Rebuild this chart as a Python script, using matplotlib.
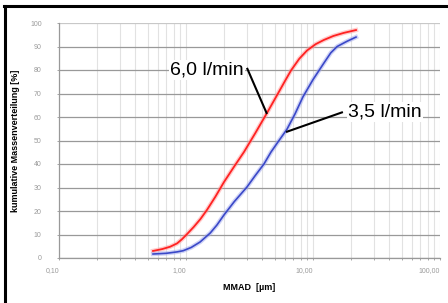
#!/usr/bin/env python3
"""Cumulative mass distribution vs MMAD for two flow rates (log x)."""

import matplotlib

matplotlib.use("Agg")
import matplotlib.pyplot as plt
from matplotlib.lines import Line2D
from matplotlib.ticker import FixedLocator, LogLocator, NullFormatter

plt.rcParams["font.family"] = ["Liberation Sans", "DejaVu Sans"]

# 6,0 l/min (red)
mmad_60 = [0.55, 0.65, 0.75, 0.85, 0.93, 1.02, 1.15, 1.30, 1.46, 1.70, 1.99, 2.40,
           2.86, 3.50, 4.34, 5.30, 6.00, 6.71, 7.80, 8.97, 10.5, 12.2, 14.5, 17.5, 21.8]
cum_60 = [3.0, 3.8, 4.8, 6.2, 8.0, 10.2, 13.2, 16.6, 20.4, 26.0, 32.3, 39.0,
          45.1, 53.0, 61.7, 70.0, 75.2, 79.8, 84.8, 88.3, 91.0, 92.8, 94.5, 95.8, 97.0]

# 3,5 l/min (blue)
mmad_35 = [0.55, 0.70, 0.85, 0.95, 1.10, 1.29, 1.55, 1.75, 1.99, 2.40, 3.02, 3.50,
           4.11, 4.67, 5.40, 6.24, 7.20, 8.34, 10.0, 12.2, 13.8, 15.5, 18.5, 21.8]
cum_35 = [1.7, 2.0, 2.6, 3.1, 4.5, 6.8, 10.6, 14.0, 18.3, 24.0, 30.2, 35.0,
          40.0, 45.1, 50.0, 54.8, 61.2, 68.6, 75.9, 83.0, 87.3, 90.0, 92.2, 94.0]

x_ticks = [0.1, 1, 10, 100]
x_ticklabels = ["0,10", "1,00", "10,00", "100,00"]
y_ticks = list(range(0, 101, 10))

W, H = 448, 303
fig = plt.figure(figsize=(W / 100, H / 100), dpi=100)
ax = fig.add_axes([59 / W, (H - 258) / H, (440 - 59) / W, (258 - 23) / H])

ax.set_xscale("log")
ax.set_xlim(0.1, 100)
ax.set_ylim(0, 100)

# grid
ax.xaxis.set_minor_locator(LogLocator(base=10, subs=range(2, 10)))
ax.xaxis.set_minor_formatter(NullFormatter())
ax.grid(True, axis="x", which="both", color="#e2e2e2", linewidth=0.8)
for y in y_ticks:
    ax.axhline(y, color="#c8c8c8" if y == 100 else "#999999", linewidth=0.9, zorder=1)
ax.set_axisbelow(True)

for s in ("top", "right"):
    ax.spines[s].set_visible(False)
for s in ("left", "bottom"):
    ax.spines[s].set_color("#999999")
    ax.spines[s].set_linewidth(0.9)

# curves with a faint halo to mimic the noisy raw data
ax.plot(mmad_60, cum_60, color="#ff9a9a", linewidth=3.2, alpha=0.5, zorder=3)
ax.plot(mmad_35, cum_35, color="#a0a8ee", linewidth=3.2, alpha=0.5, zorder=3)
ax.plot(mmad_60, cum_60, color="#ff2222", linewidth=1.3, zorder=4)
ax.plot(mmad_35, cum_35, color="#3a48c8", linewidth=1.2, zorder=4)

ax.set_xticks(x_ticks)
ax.set_xticklabels(x_ticklabels, ha="right")
ax.yaxis.set_major_locator(FixedLocator(y_ticks))
ax.tick_params(axis="both", which="both", colors="#999999", labelcolor="#9a9a9a",
               labelsize=5, length=1.5, width=0.6)
ax.tick_params(axis="y", pad=11)
ax.tick_params(axis="x", pad=5)

ax.set_xlabel("MMAD  [µm]", fontsize=6.5, fontweight="bold", labelpad=6.5)
ax.set_ylabel("kumulative Massenverteilung [%]", fontsize=6.5, fontweight="bold", labelpad=7)

# callouts: leader lines + boxed labels
ax.plot([3.02, 4.34], [80.9, 61.3], color="black", linewidth=1.5, zorder=6,
        solid_capstyle="butt")
ax.plot([17.2, 6.13], [62.1, 53.6], color="black", linewidth=1.5, zorder=6,
        solid_capstyle="butt")
box = dict(facecolor="white", edgecolor="none", pad=1.0)
ax.text(2.85, 80, "6,0 l/min", ha="right", va="center", fontsize=14, bbox=box, zorder=7)
ax.text(18.9, 62, "3,5 l/min", ha="left", va="center", fontsize=14, bbox=box, zorder=7)

# black frame (left and top edges visible)
fig.add_artist(Line2D([5 / W, 5 / W], [0, (H - 6) / H], color="black", linewidth=2.2,
                      transform=fig.transFigure))
fig.add_artist(Line2D([4 / W, 1], [(H - 6) / H, (H - 6) / H], color="black", linewidth=2.2,
                      transform=fig.transFigure))

fig.savefig("out.png", dpi=100)
plt.close(fig)
